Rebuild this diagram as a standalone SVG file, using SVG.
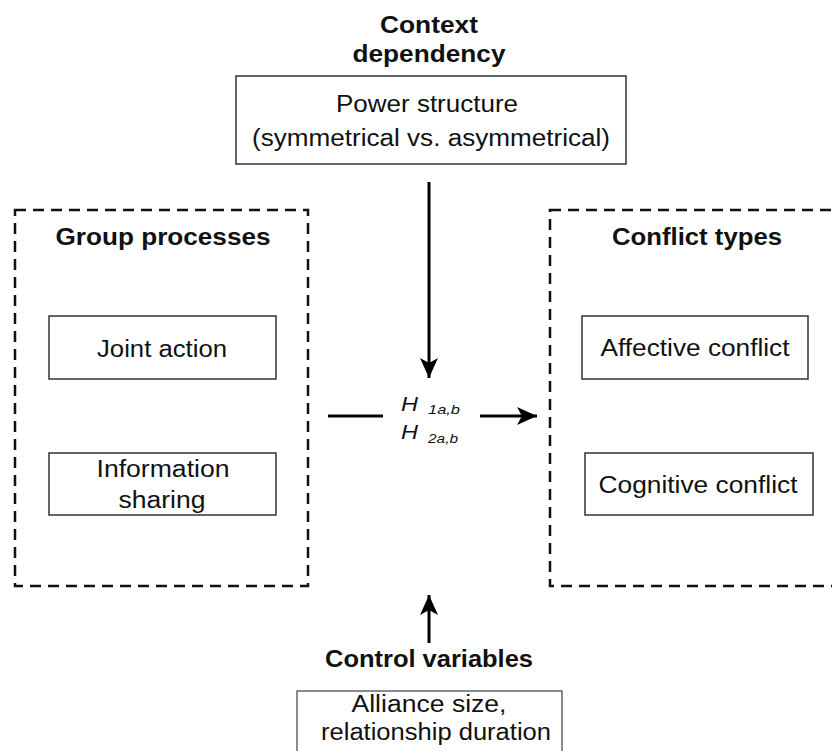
<svg xmlns="http://www.w3.org/2000/svg" width="832" height="751" viewBox="0 0 832 751">
<style>
  .t { font-family: "Liberation Sans", Arial, sans-serif; font-size: 23px; fill: #111; text-anchor: middle; }
  .b { font-family: "Liberation Sans", Arial, sans-serif; font-size: 23px; font-weight: bold; fill: #111; text-anchor: middle; }
  .h { font-family: "Liberation Sans", Arial, sans-serif; font-style: italic; fill: #111; }
  .box { fill: #fff; stroke: #333; stroke-width: 1.5; }
  .dash { fill: none; stroke: #111; stroke-width: 2.5; stroke-dasharray: 11 7; }
  .conn { fill: none; stroke: #000; stroke-width: 3; }
</style>
<defs>
  <marker id="arr" viewBox="0 0 20 18" refX="20" refY="9" markerWidth="20" markerHeight="18" markerUnits="userSpaceOnUse" orient="auto">
    <path d="M0,0 L20,9 L0,18 L5,9 Z" fill="#000"/>
  </marker>
</defs>
<rect width="832" height="751" fill="#fff"/>

<g id="context">
  <text class="b" x="429" y="33" textLength="98" lengthAdjust="spacingAndGlyphs">Context</text>
  <text class="b" x="429" y="62" textLength="153" lengthAdjust="spacingAndGlyphs">dependency</text>
  <rect class="box" x="236" y="76" width="390" height="88"/>
  <text class="t" x="427" y="112" textLength="182" lengthAdjust="spacingAndGlyphs">Power structure</text>
  <text class="t" x="431" y="146" textLength="358" lengthAdjust="spacingAndGlyphs">(symmetrical vs. asymmetrical)</text>
</g>

<g id="group-processes">
  <rect class="dash" x="15" y="210" width="293" height="376"/>
  <text class="b" x="163" y="245" textLength="215" lengthAdjust="spacingAndGlyphs">Group processes</text>
</g>
<g id="joint-action">
  <rect class="box" x="49" y="316" width="227" height="63"/>
  <text class="t" x="162" y="357" textLength="130" lengthAdjust="spacingAndGlyphs">Joint action</text>
</g>
<g id="information-sharing">
  <rect class="box" x="49" y="453" width="227" height="62"/>
  <text class="t" x="163" y="477" textLength="133" lengthAdjust="spacingAndGlyphs">Information</text>
  <text class="t" x="162" y="508" textLength="87" lengthAdjust="spacingAndGlyphs">sharing</text>
</g>

<g id="conflict-types">
  <rect class="dash" x="550" y="210" width="300" height="376"/>
  <text class="b" x="697" y="245" textLength="170" lengthAdjust="spacingAndGlyphs">Conflict types</text>
</g>
<g id="affective-conflict">
  <rect class="box" x="582" y="316" width="226" height="63"/>
  <text class="t" x="695" y="356" textLength="189" lengthAdjust="spacingAndGlyphs">Affective conflict</text>
</g>
<g id="cognitive-conflict">
  <rect class="box" x="585" y="453" width="228" height="62"/>
  <text class="t" x="698" y="493" textLength="199" lengthAdjust="spacingAndGlyphs">Cognitive conflict</text>
</g>

<g id="hypotheses">
  <text class="h" x="401" y="411" font-size="20" textLength="17" lengthAdjust="spacingAndGlyphs">H</text>
  <text class="h" x="428" y="414" font-size="13" textLength="32" lengthAdjust="spacingAndGlyphs">1a,b</text>
  <text class="h" x="401" y="439" font-size="20" textLength="17" lengthAdjust="spacingAndGlyphs">H</text>
  <text class="h" x="428" y="443" font-size="13" textLength="30" lengthAdjust="spacingAndGlyphs">2a,b</text>
</g>

<g id="control-variables">
  <text class="b" x="429" y="667" textLength="208" lengthAdjust="spacingAndGlyphs">Control variables</text>
  <rect x="297" y="691" width="265" height="70" fill="#fff" stroke="#666" stroke-width="1.5"/>
  <text class="t" x="429" y="712" textLength="155" lengthAdjust="spacingAndGlyphs">Alliance size,</text>
  <text class="t" x="436" y="740" textLength="230" lengthAdjust="spacingAndGlyphs">relationship duration</text>
</g>

<g id="connectors">
  <line class="conn" x1="429" y1="182" x2="429" y2="378" marker-end="url(#arr)"/>
  <line class="conn" x1="328" y1="416" x2="383" y2="416"/>
  <line class="conn" x1="480" y1="416" x2="537" y2="416" marker-end="url(#arr)"/>
  <line class="conn" x1="429" y1="643" x2="429" y2="595" marker-end="url(#arr)"/>
</g>
</svg>
